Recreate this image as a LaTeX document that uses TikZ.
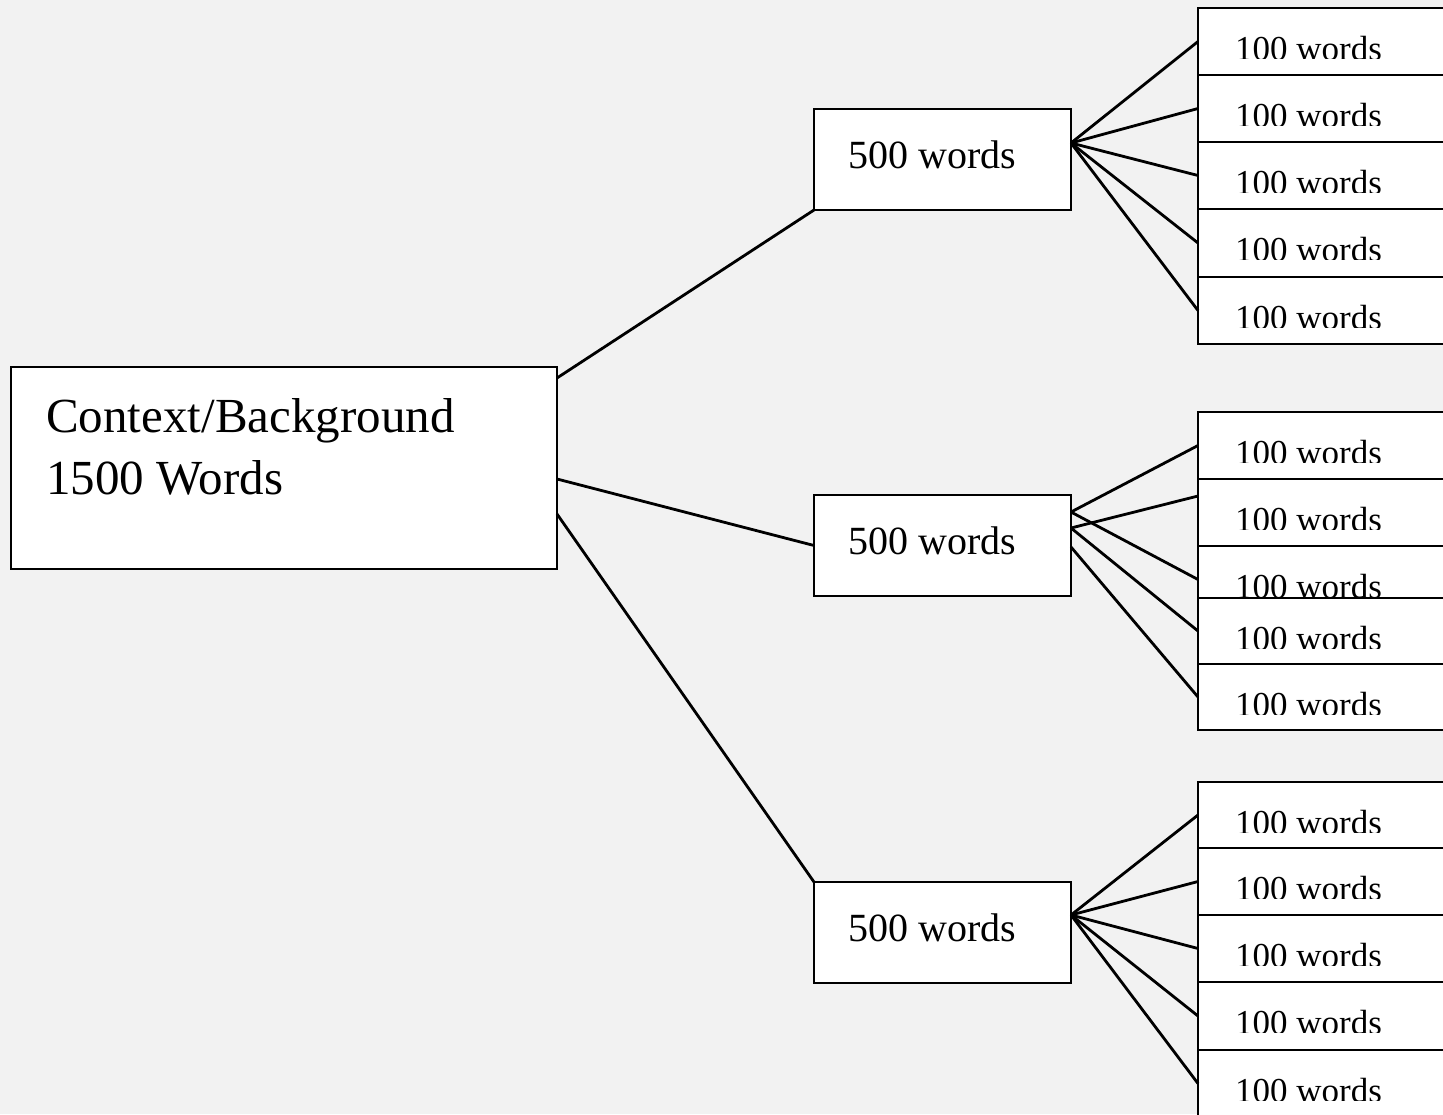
\documentclass[tikz,border=0pt]{standalone}
\usepackage{fontspec}
\setmainfont{Liberation Serif}
\definecolor{pagegray}{HTML}{F2F2F2}
\tikzset{
  box/.style={draw=black,fill=white,line width=2.8pt,rectangle,inner sep=0pt,outer sep=0pt,anchor=north west},
  wordbox/.style={box,minimum width=300pt},
  wtext/.style={anchor=base west,inner sep=0pt},
  link/.style={line width=2.8pt},
}
\begin{document}
\begin{tikzpicture}[x=1pt,y=-1pt]
  \useasboundingbox (0,0) rectangle (1443,1114);
  \clip (0,0) rectangle (1443,1114);
  \fill[pagegray] (0,0) rectangle (1443,1114);
  % left box
  \node[box,minimum width=546pt,minimum height=202pt] (ctx) at (11,367) {};
  \node[wtext,font=\fontsize{49}{62}\selectfont] (ctxtop) at ([xshift=35pt,yshift=-65pt]ctx.north west) {Context/Background};
  \node[wtext,font=\fontsize{49}{62}\selectfont] (ctxbot) at ([xshift=35pt,yshift=-127pt]ctx.north west) {1500 Words};
  % middle boxes
  \foreach \n/\y in {1/109,2/495,3/882} {
    \node[box,minimum width=257pt,minimum height=101pt] (mid\n) at (814,\y) {};
    \node[wtext,font=\fontsize{40}{48}\selectfont] (mid\n text) at ([xshift=34pt,yshift=-59pt]mid\n.north west) {500 words};
  }
  % right boxes
  \foreach \nm/\top/\ht in {a1/8/67pt,a2/75/67pt,a3/142/67pt,a4/209/68pt,a5/277/67pt,
                            b1/412/67pt,b2/479/67pt,b3/546/67pt,b4/598/66pt,b5/664/66pt,
                            c1/782/66pt,c2/848/67pt,c3/915/67pt,c4/982/68pt,c5/1050/67pt} {
    \node[wordbox,minimum height=\ht] (\nm) at (1198,\top) {};
    \begin{scope}
      \clip (\nm.north west) rectangle ([yshift=-50pt]\nm.north east);
      \node[wtext,font=\fontsize{35}{42}\selectfont] (\nm text) at ([xshift=37pt,yshift=-52pt]\nm.north west) {100 words};
    \end{scope}
  }
  % connectors
  \draw[link] ([yshift=-11pt]ctx.north east) -- (mid1.south west);
  \draw[link] ([yshift=-112pt]ctx.north east) -- (mid2.west);
  \draw[link] ([yshift=-147pt]ctx.north east) -- (mid3.north west);
  \foreach \s in {1,...,5} {
    \draw[link] ([yshift=-34pt]mid1.north east) -- (a\s.west);
    \draw[link] ([yshift=-33pt]mid3.north east) -- (c\s.west);
  }
  \draw[link] ([yshift=-17pt]mid2.north east) -- (b1.west);
  \draw[link] ([yshift=-33pt]mid2.north east) -- ([yshift=-17pt]b2.north west);
  \draw[link] ([yshift=-17pt]mid2.north east) -- (b3.west);
  \draw[link] ([yshift=-33pt]mid2.north east) -- (b4.west);
  \draw[link] ([yshift=-52pt]mid2.north east) -- (b5.west);
\end{tikzpicture}
\end{document}
